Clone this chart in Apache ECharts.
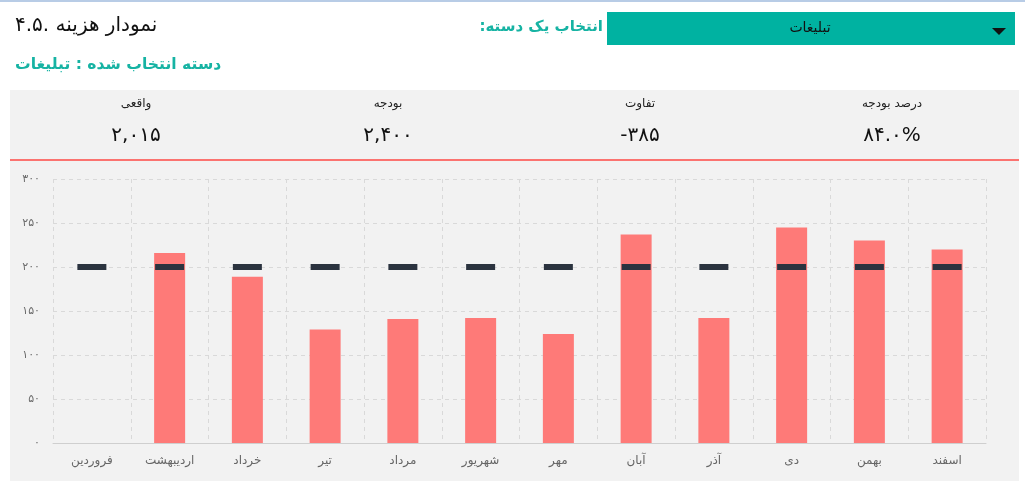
<!DOCTYPE html>
<html><head><meta charset="utf-8">
<script src="https://cdn.jsdelivr.net/npm/echarts@6/dist/echarts.min.js"></script>
<style>html,body{margin:0;padding:0;background:#fff;}#c{width:1025px;height:494px;}</style>
</head><body><div id="c"></div>
<script>
const categories = ['فروردین','اردیبهشت','خرداد','تیر','مرداد','شهریور','مهر','آبان','آذر','دی','بهمن','اسفند'];
const actualValues = [0, 216, 189, 129, 141, 142, 124, 237, 142, 245, 230, 220];
const budgetValues = [200, 200, 200, 200, 200, 200, 200, 200, 200, 200, 200, 200];
const yTickLabels = ['۰','۵۰','۱۰۰','۱۵۰','۲۰۰','۲۵۰','۳۰۰'];
const kpiLabels = ['واقعی','بودجه','تفاوت','درصد بودجه'];
const kpiValues = ['۲,۰۱۵','۲,۴۰۰','-۳۸۵','۸۴.۰%'];
const titleText = '۴.۵. نمودار هزینه';
const subtitleText = 'دسته انتخاب شده : تبلیغات';
const selectLabel = 'انتخاب یک دسته:\u200F';
const selectedValue = 'تبلیغات';

const FONT = '"DejaVu Sans", sans-serif';
const TEAL = '#16b3a3';
const chart = echarts.init(document.getElementById('c'), null, {renderer: 'canvas'});

const graphics = [
  {type:'rect', shape:{x:0,y:0,width:1025,height:2}, style:{fill:'#b8cce6'}, silent:true},
  {type:'rect', z:-10, shape:{x:10,y:90,width:1009,height:391}, style:{fill:'#f2f2f2'}, silent:true},
  {type:'rect', shape:{x:10,y:159,width:1009,height:2}, style:{fill:'#fb7370'}, silent:true},
  {type:'text', x:15, y:26, style:{text:titleText, font:'20px '+FONT, fill:'#111', textAlign:'left', textVerticalAlign:'middle'}},
  {type:'text', x:15, y:65, style:{text:subtitleText, font:'bold 15.6px '+FONT, fill:TEAL, textAlign:'left', textVerticalAlign:'middle'}},
  {type:'text', x:603, y:27, style:{text:selectLabel, font:'bold 15px '+FONT, fill:TEAL, textAlign:'right', textVerticalAlign:'middle'}},
  {type:'rect', shape:{x:607,y:12,width:408,height:33}, style:{fill:'#00b2a1'}},
  {type:'text', x:810, y:28, style:{text:selectedValue, font:'14px '+FONT, fill:'#111', textAlign:'center', textVerticalAlign:'middle'}},
  {type:'polygon', shape:{points:[[992,28],[1006,28],[999,35]]}, style:{fill:'#111'}}
];
kpiLabels.forEach((lab, i) => {
  const cx = 10 + 252 * i + 126;
  graphics.push({type:'text', x:cx, y:104, style:{text:lab, font:'12px '+FONT, fill:'#222', textAlign:'center', textVerticalAlign:'middle'}});
  graphics.push({type:'text', x:cx, y:136, style:{text:kpiValues[i], font:'20px '+FONT, fill:'#111', textAlign:'center', textVerticalAlign:'middle'}});
});

chart.setOption({
  animation:false,
  textStyle:{fontFamily:FONT},
  graphic: graphics,
  grid:{left:53, right:39, top:179, bottom:51, containLabel:false},
  xAxis:{
    type:'category', data:categories,
    axisLine:{lineStyle:{color:'#cfcfcf'}},
    axisTick:{show:false},
    axisLabel:{color:'#666', fontSize:12, margin:12, fontFamily:FONT},
    splitLine:{show:true, lineStyle:{color:'#d9d9d9', type:[4,4]}}
  },
  yAxis:{
    type:'value', min:0, max:300, interval:50,
    axisLine:{show:false}, axisTick:{show:false},
    axisLabel:{color:'#6b6b6b', fontSize:11, margin:13, fontFamily:FONT,
      formatter:(v)=> yTickLabels[Math.round(v/50)]},
    splitLine:{lineStyle:{color:'#d9d9d9', type:[4,4]}}
  },
  series:[
    {type:'bar', data:actualValues, barWidth:31, itemStyle:{color:'#fe7a78'}, z:2},
    {type:'scatter', data:budgetValues, symbol:'rect', symbolSize:[29,6], itemStyle:{color:'#2b333f', opacity:1}, z:3}
  ]
});
</script></body></html>
